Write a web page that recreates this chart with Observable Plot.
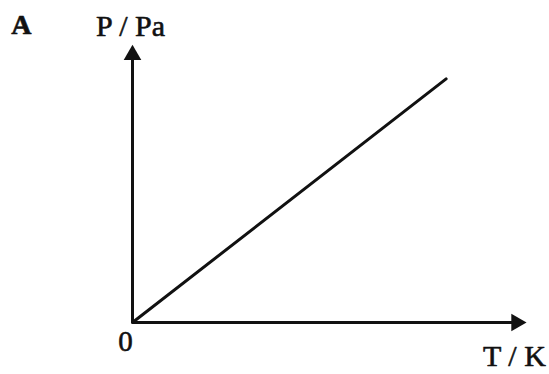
<!DOCTYPE html>
<html>
<head>
<meta charset="utf-8">
<script src="https://cdn.jsdelivr.net/npm/d3@7"></script>
<script src="https://cdn.jsdelivr.net/npm/@observablehq/plot@0.6"></script>
<style>
  html, body { margin: 0; padding: 0; background: #fff; }
  #chart svg { display: block; }
</style>
</head>
<body>
<div id="chart"></div>
<script>
// Data (schematic: P proportional to T)
const temperature = [0, 79];
const pressure = [0, 87];
const panelLabel = "A";
const yLabel = "P / Pa";
const xLabel = "T / K";
const originLabel = "0";

const lineData = temperature.map((t, i) => ({T: t, P: pressure[i]}));

const ink = "#111";
const font = "Liberation Serif, Times New Roman, serif";
const arrowR = 8.4;
const textStyle = {fill: ink, stroke: ink, strokeWidth: 0.6, lineAnchor: "bottom", textAnchor: "middle"};

const chart = Plot.plot({
  width: 549,
  height: 374,
  marginLeft: 132,
  marginRight: 20,
  marginTop: 42,
  marginBottom: 52,
  x: {domain: [0, 100], axis: null},
  y: {domain: [0, 100], axis: null},
  style: {background: "#fff", fontFamily: font},
  marks: [
    // axes
    Plot.ruleX([0], {y1: 0, y2: 95.5, stroke: ink, strokeWidth: 3}),
    Plot.ruleY([0], {x1: 0, x2: 96.5, stroke: ink, strokeWidth: 3}),
    Plot.dot([{x: 0, y: 95.6}], {x: "x", y: "y", symbol: "triangle2", r: arrowR, fill: ink, stroke: "none"}),
    Plot.dot([{x: 96.7, y: 0}], {x: "x", y: "y", symbol: "triangle2", r: arrowR, fill: ink, stroke: "none", rotate: 90}),
    // data line
    Plot.line(lineData, {x: "T", y: "P", stroke: ink, strokeWidth: 3}),
    // labels
    Plot.text([yLabel], {x: -0.5, y: 102.5, text: d => d, fontSize: 30, ...textStyle}),
    Plot.text([panelLabel], {x: -28, y: 103.2, text: d => d, fontSize: 28, fontWeight: "bold", ...textStyle}),
    Plot.text([originLabel], {x: -1.76, y: -10, text: d => d, fontSize: 29, ...textStyle}),
    Plot.text([xLabel], {x: 96.2, y: -15.7, text: d => d, fontSize: 30, ...textStyle})
  ]
});
document.getElementById("chart").appendChild(chart);
</script>
</body>
</html>
